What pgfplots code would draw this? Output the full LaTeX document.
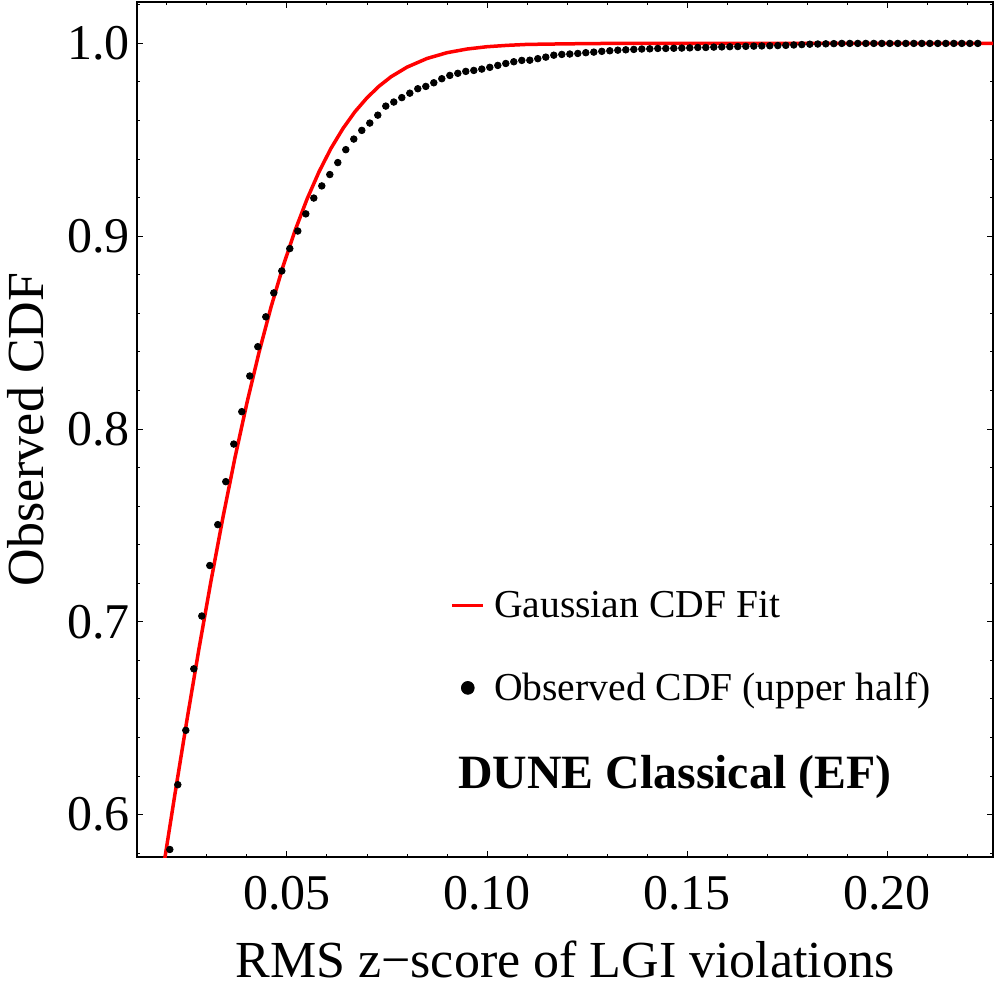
\documentclass[border=0pt]{standalone}
\usepackage{fontspec}
\setmainfont{Liberation Serif}
\usepackage{pgfplots}
\pgfplotsset{compat=1.18}
\begin{document}
\begin{tikzpicture}
\begin{axis}[
  name=ax,
  width=428pt, height=427.5pt, scale only axis,
  xmin=0.0125, xmax=0.2265, ymin=0.578, ymax=1.0215,
  axis line style={line width=1pt},
  tick align=inside,
  major tick length=3pt, minor tick length=1.6pt,
  every tick/.style={black, line width=0.5pt},
  xtick={0.05,0.10,0.15,0.20},
  xticklabels={0.05,0.10,0.15,0.20},
  minor xtick={0.02,0.03,0.04,0.06,0.07,0.08,0.09,0.11,0.12,0.13,0.14,0.16,0.17,0.18,0.19,0.21,0.22},
  ytick={0.6,0.7,0.8,0.9,1.0},
  yticklabels={0.6,0.7,0.8,0.9,1.0},
  minor ytick={0.58,0.62,0.64,0.66,0.68,0.72,0.74,0.76,0.78,0.82,0.84,0.86,0.88,0.92,0.94,0.96,0.98,1.02},
  ticklabel style={font=\fontsize{25}{30}\selectfont},
  xticklabel style={inner sep=0pt, anchor=north, yshift=-9.5pt},
  yticklabel style={inner sep=0pt, anchor=east, xshift=-3.5pt},
  xlabel={RMS z−score of LGI violations},
  ylabel={Observed CDF},
  label style={font=\fontsize{26}{30}\selectfont},
  xlabel style={at={(axis description cs:0.5,-0.1404)}, anchor=base},
  ylabel style={at={(axis description cs:-0.1098,0.5)}, anchor=base, rotate=0},
  legend style={draw=none, fill=none, at={(0.360,0.316)}, anchor=north west,
    inner sep=0pt, row sep=22pt, font=\fontsize{19.8}{23}\selectfont},
  legend cell align=left,
]
\addplot[red, line width=1.75pt, legend image code/.code={\path (-2.5pt,0pt) (18pt,0pt); \draw[red, line width=1.4pt] (0pt,0pt) -- (15.5pt,0pt);}] coordinates {
(0.0190,0.5713) (0.0220,0.6108) (0.0250,0.6492) (0.0280,0.6861) (0.0310,0.7212)
(0.0340,0.7543) (0.0370,0.7852) (0.0400,0.8137) (0.0430,0.8397) (0.0460,0.8632)
(0.0490,0.8843) (0.0520,0.9029) (0.0550,0.9192) (0.0580,0.9334) (0.0610,0.9456)
(0.0640,0.9559) (0.0670,0.9646) (0.0700,0.9718) (0.0730,0.9778) (0.0760,0.9827)
(0.0800,0.9877) (0.0850,0.9922) (0.0900,0.9952) (0.0950,0.9971) (0.1000,0.9983)
(0.1050,0.9990) (0.1100,0.9995) (0.1200,0.9998) (0.1300,1.0000) (0.2265,1.0000)
};
\addlegendentry{Gaussian CDF Fit}
\addplot[only marks, mark=*, mark size=1.65pt, black, legend image code/.code={\fill[black] (7.75pt,0pt) circle (3.2pt);}] table {
x y
0.0207 0.5819
0.0227 0.6155
0.0247 0.6437
0.0267 0.6756
0.0287 0.7030
0.0307 0.7292
0.0327 0.7504
0.0347 0.7727
0.0367 0.7922
0.0387 0.8090
0.0407 0.8275
0.0427 0.8427
0.0447 0.8582
0.0467 0.8706
0.0487 0.8820
0.0507 0.8936
0.0527 0.9027
0.0547 0.9116
0.0567 0.9198
0.0587 0.9261
0.0607 0.9320
0.0627 0.9382
0.0647 0.9449
0.0667 0.9504
0.0687 0.9549
0.0707 0.9587
0.0727 0.9628
0.0747 0.9675
0.0767 0.9696
0.0787 0.9719
0.0807 0.9742
0.0827 0.9765
0.0847 0.9777
0.0867 0.9796
0.0887 0.9817
0.0907 0.9834
0.0927 0.9845
0.0947 0.9855
0.0967 0.9860
0.0987 0.9867
0.1007 0.9876
0.1027 0.9886
0.1047 0.9896
0.1067 0.9905
0.1087 0.9912
0.1107 0.9913
0.1127 0.9921
0.1147 0.9929
0.1167 0.9939
0.1187 0.9943
0.1207 0.9945
0.1227 0.9948
0.1247 0.9952
0.1267 0.9955
0.1287 0.9959
0.1307 0.9962
0.1327 0.9965
0.1347 0.9967
0.1367 0.9969
0.1387 0.9971
0.1407 0.9972
0.1427 0.9974
0.1447 0.9974
0.1467 0.9975
0.1487 0.9976
0.1507 0.9977
0.1527 0.9979
0.1547 0.9979
0.1567 0.9981
0.1587 0.9982
0.1607 0.9983
0.1627 0.9984
0.1647 0.9985
0.1667 0.9986
0.1687 0.9987
0.1707 0.9988
0.1727 0.9989
0.1747 0.9990
0.1767 0.9992
0.1787 0.9994
0.1807 0.9996
0.1827 0.9997
0.1847 0.9998
0.1867 0.9999
0.1887 1.0000
0.1907 1.0000
0.1927 1.0000
0.1947 1.0000
0.1967 1.0000
0.1987 1.0000
0.2007 1.0000
0.2027 1.0000
0.2047 1.0000
0.2067 1.0000
0.2087 1.0000
0.2107 1.0000
0.2127 1.0000
0.2147 1.0000
0.2167 1.0000
0.2187 1.0000
0.2207 1.0000
0.2227 1.0000
};
\addlegendentry{Observed CDF (upper half)}
\node[anchor=base west, inner sep=0pt, font=\fontsize{23.9}{27}\selectfont\bfseries] at (rel axis cs:0.375,0.0807) {DUNE Classical (EF)};
\end{axis}
\pgfresetboundingbox
\path ([xshift=-68.5pt,yshift=-67pt]ax.south west) rectangle ([xshift=1.5pt,yshift=1pt]ax.north east);
\end{tikzpicture}
\end{document}
